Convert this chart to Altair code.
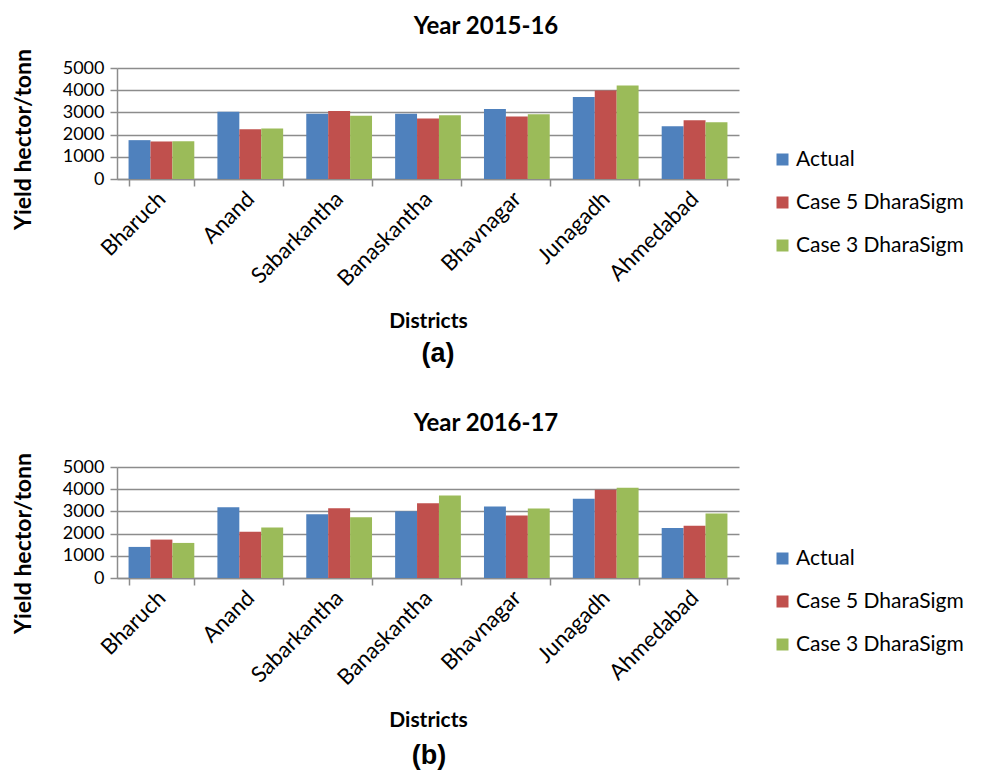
import altair as alt
import pandas as pd

districts = ["Bharuch", "Anand", "Sabarkantha", "Banaskantha", "Bhavnagar", "Junagadh", "Ahmedabad"]
series = ["Actual", "Case 5 DharaSigm", "Case 3 DharaSigm"]

actual_1516 = [1750, 3030, 2940, 2940, 3150, 3690, 2380]
case5_1516 = [1690, 2245, 3060, 2725, 2815, 3990, 2650]
case3_1516 = [1700, 2275, 2850, 2875, 2920, 4215, 2560]

actual_1617 = [1400, 3190, 2870, 3010, 3220, 3570, 2250]
case5_1617 = [1730, 2080, 3140, 3370, 2820, 3970, 2355]
case3_1617 = [1580, 2280, 2735, 3720, 3130, 4060, 2900]

colors = ["#4F81BD", "#C0504D", "#9BBB59"]
y_ticks = [0, 1000, 2000, 3000, 4000, 5000]

FONT = "Lato"
GRAY = "#8c8c8c"


def long_df(a, c5, c3):
    rows = []
    for s, vals in zip(series, [a, c5, c3]):
        for d, v in zip(districts, vals):
            rows.append({"District": d, "Series": s, "Yield": v})
    return pd.DataFrame(rows)


def panel(df, title, caption, ytitle_y, title_offset, cap_x, cap_y):
    bars = alt.Chart(df).mark_bar().encode(
        x=alt.X(
            "District:N",
            sort=districts,
            scale=alt.Scale(paddingInner=0.26, paddingOuter=0.13),
            axis=alt.Axis(
                title="Districts",
                labelAngle=-45,
                labelAlign="right",
                labelBaseline="middle",
                tickBand="extent",
                labelFont=FONT,
                labelFontSize=22,
                labelColor="black",
                titleFont=FONT,
                titleFontSize=21,
                titleFontWeight="bold",
                titleColor="black",
                titlePadding=21,
                domainColor=GRAY,
                domainWidth=1.5,
                tickColor=GRAY,
                tickWidth=1.5,
                tickSize=7,
                labelPadding=9,
            ),
        ),
        xOffset=alt.XOffset("Series:N", sort=series),
        y=alt.Y(
            "Yield:Q",
            scale=alt.Scale(domain=[0, 5000]),
            axis=alt.Axis(
                values=y_ticks,
                format="d",
                title="Yield hector/tonn",
                titleY=ytitle_y,
                labelFont=FONT,
                labelFontSize=18,
                labelColor="black",
                titleFont=FONT,
                titleFontSize=23,
                titleFontWeight="bold",
                titleColor="black",
                titlePadding=27,
                domainColor=GRAY,
                domainWidth=1.5,
                tickColor=GRAY,
                tickWidth=1.5,
                tickSize=7,
                gridColor=GRAY,
                gridWidth=1.5,
                labelPadding=6,
            ),
        ),
        color=alt.Color(
            "Series:N",
            sort=series,
            scale=alt.Scale(domain=series, range=colors),
            legend=alt.Legend(
                title=None,
                orient="none",
                legendX=655,
                legendY=81,
                direction="vertical",
                labelFont=FONT,
                labelFontSize=21,
                labelColor="black",
                labelLimit=300,
                symbolType="square",
                symbolSize=144,
                symbolStrokeWidth=0,
                rowPadding=21,
                labelOffset=3,
            ),
        ),
    )
    cap = alt.Chart(pd.DataFrame({"t": [caption]})).mark_text(
        font="Liberation Sans", fontWeight="bold", fontSize=27, color="black"
    ).encode(text="t:N", x=alt.value(cap_x), y=alt.value(cap_y))
    return alt.layer(bars, cap).properties(
        width=622,
        height=111,
        title=alt.Title(
            title, font=FONT, fontSize=24, fontWeight="bold", color="black",
            offset=title_offset, anchor="middle", dx=58,
        ),
    )


top = panel(long_df(actual_1516, case5_1516, case3_1516), "Year 2015-16", "(a)", 71, 9, 321, 286)
bottom = panel(long_df(actual_1617, case5_1617, case3_1617), "Year 2016-17", "(b)", 76, 16, 312, 289)

chart = (
    alt.vconcat(top, bottom, spacing=45, padding={"left": 4, "top": 7, "right": 5, "bottom": 5})
    .resolve_legend(color="independent")
    .configure_view(stroke=None)
)

chart.save("out.html", embed_options={"renderer": "svg", "actions": False})
